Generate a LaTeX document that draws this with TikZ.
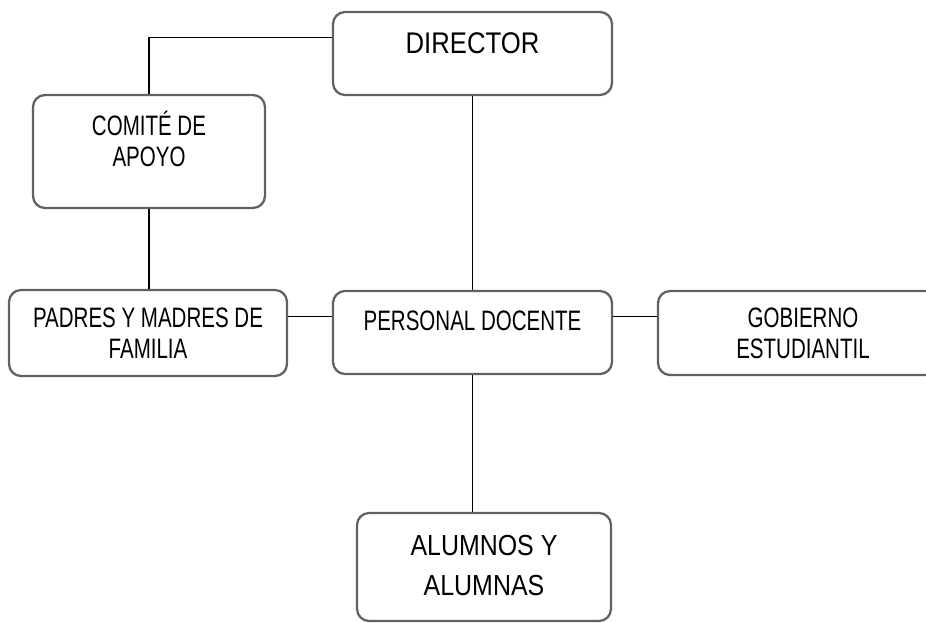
\documentclass[tikz,border=0pt]{standalone}
\usepackage{fontspec}
\usepackage{tikz}
\usetikzlibrary{calc}
\newfontfamily\boxfont[FakeStretch=0.73]{Liberation Sans}
\newfontfamily\wideboxfont[FakeStretch=0.86]{Liberation Sans}
\definecolor{box-gray}{gray}{0.38}

\begin{document}
\begin{tikzpicture}[x=0.02cm, y=-0.02cm,
	unit/.style={draw=box-gray, line width=1.3pt, rounded corners=0.24cm, fill=white, inner sep=0pt, align=center,
		font=\boxfont\fontsize{16}{17.5}\selectfont},
	link/.style={draw=black, line width=0.8pt}]
						\useasboundingbox[fill=white] (0,0) rectangle (926,622);
						\node[unit, minimum width=5.58cm, minimum height=1.66cm, text height=0.84cm, text depth=0.82cm,
							font=\wideboxfont\fontsize{17}{19}\selectfont] (dir) at (472.5,53.5) {DIRECTOR};
						\node[unit, minimum width=4.64cm, minimum height=2.26cm, text height=1.42cm, text depth=0.84cm] (com) at (149,151.5) {COMITÉ DE\\APOYO};
						\node[unit, minimum width=5.56cm, minimum height=1.72cm, text height=1.36cm, text depth=0.36cm] (pad) at (148,333) {PADRES Y MADRES DE\\FAMILIA};
						\node[unit, minimum width=5.58cm, minimum height=1.66cm, text height=0.78cm, text depth=0.88cm] (per) at (472.5,332.5) {PERSONAL DOCENTE};
						\node[unit, minimum width=5.80cm, minimum height=1.68cm, text height=1.34cm, text depth=0.34cm] (gob) at (803,333) {GOBIERNO\\ESTUDIANTIL};
						\node[unit, minimum width=5.08cm, minimum height=2.16cm, text height=1.64cm, text depth=0.52cm,
							font=\wideboxfont\fontsize{16.5}{17.5}\selectfont] (alu) at (484,567) {ALUMNOS Y\\[5pt]ALUMNAS};
						\draw[link] ($(dir.north west)!0.31!(dir.south west)$) -| (com.north);
						\draw[link] (com.south) -- (com.south |- pad.north);
						\draw[link] (dir.south) -- (per.north);
						\draw[link] ($(pad.north east)!0.31!(pad.south east)$) coordinate (padlink) -- (padlink -| per.west);
						\draw[link] ($(per.north east)!0.31!(per.south east)$) coordinate (perlink) -- (perlink -| gob.west);
						\draw[link] (per.south) -- (per.south |- alu.north);
					\end{tikzpicture}
\end{document}
